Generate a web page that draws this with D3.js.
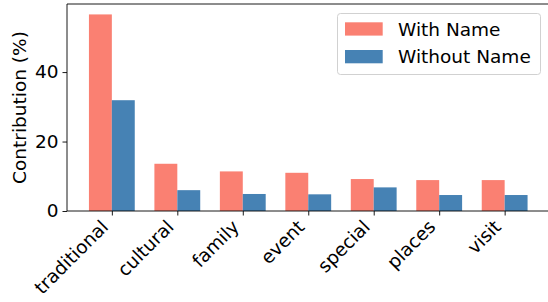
<!DOCTYPE html>
<html><head><meta charset="utf-8">
<script src="https://cdn.jsdelivr.net/npm/d3@7"></script>
<style>body{margin:0;background:#fff}svg{display:block;font-family:"DejaVu Sans",sans-serif}</style>
</head><body><svg id="c" width="548" height="302"></svg>
<script>
const categories = ["traditional","cultural","family","event","special","places","visit"];
const withName = [56.6, 13.6, 11.4, 11.0, 9.2, 8.9, 8.9];
const withoutName = [31.9, 6.0, 4.9, 4.8, 6.8, 4.6, 4.6];
const seriesNames = ["With Name","Without Name"];
const colors = ["#FA8072","#4682B4"];
const yTicks = [0,20,40];

(function(){
const FS = 18.5;
const svg = d3.select("#c");
const mLeft = 67, mRight = 549.5, mTop = 4, mBottom = 211;
const barW = 0.35;
const x = d3.scaleLinear().domain([-0.685, 6.685]).range([mLeft, mRight]);
const y = d3.scaleLinear().domain([0, 59.6]).range([mBottom, mTop]);

const g = svg.append("g");
const series = [withName, withoutName];
series.forEach((vals, s) => {
  g.selectAll(".b"+s).data(vals).enter().append("rect")
    .attr("x", (d,i) => x(i + (s===0 ? -barW : 0)))
    .attr("width", x(barW) - x(0))
    .attr("y", d => y(d))
    .attr("height", d => y(0) - y(d))
    .attr("fill", colors[s]);
});

svg.append("line").attr("x1", mLeft).attr("x2", mLeft).attr("y1", mTop).attr("y2", mBottom).attr("stroke","#000").attr("stroke-width",0.9);
svg.append("line").attr("x1", mLeft).attr("x2", 548).attr("y1", mTop).attr("y2", mTop).attr("stroke","#000").attr("stroke-width",0.9);
svg.append("line").attr("x1", mLeft).attr("x2", 548).attr("y1", mBottom).attr("y2", mBottom).attr("stroke","#000").attr("stroke-width",0.9);

const yAxis = d3.axisLeft(y).tickValues(yTicks).tickSize(4.5).tickPadding(4);
const ya = svg.append("g").attr("transform", `translate(${mLeft},0)`).call(yAxis);
ya.select(".domain").remove();
ya.selectAll("text").attr("font-size", FS).attr("fill","#000").attr("font-family","DejaVu Sans");
ya.selectAll("line").attr("stroke","#000").attr("stroke-width",0.9);

const xAxis = d3.axisBottom(x).tickValues(d3.range(categories.length)).tickFormat(i => categories[i]).tickSize(4.5).tickPadding(3);
const xa = svg.append("g").attr("transform", `translate(0,${mBottom})`).call(xAxis);
xa.select(".domain").remove();
xa.selectAll("line").attr("stroke","#000").attr("stroke-width",0.9);
xa.selectAll("text").attr("font-size", FS).attr("fill","#000").attr("font-family","DejaVu Sans")
  .attr("text-anchor","end").attr("dy", null).attr("y", 0)
  .attr("transform", "translate(-3,17) rotate(-45)");

svg.append("text").attr("transform", `translate(26,${(mTop+mBottom)/2}) rotate(-90)`)
  .attr("text-anchor","middle").attr("font-size",FS).text("Contribution (%)");

const lg = svg.append("g");
lg.append("rect").attr("x",337.5).attr("y",13.5).attr("width",203).attr("height",61).attr("rx",3)
  .attr("fill","#fff").attr("fill-opacity",0.8).attr("stroke","#ccc").attr("stroke-width",0.9);
seriesNames.forEach((n,i) => {
  lg.append("rect").attr("x",345).attr("y",22.3 + i*27.7).attr("width",37.7).attr("height",13.3).attr("fill",colors[i]);
  lg.append("text").attr("x",398).attr("y",35.7 + i*27.7).attr("font-size",FS).text(n);
});
})();
</script></body></html>
